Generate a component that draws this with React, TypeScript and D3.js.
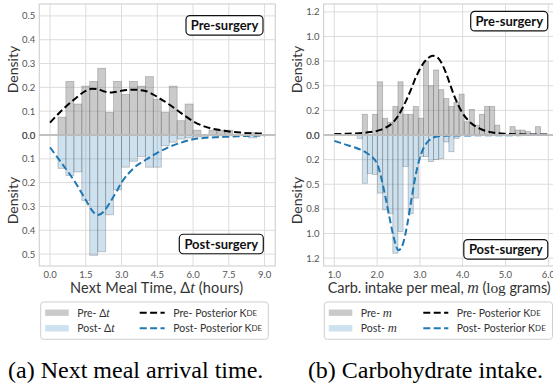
import React from "react";
import * as d3 from "d3";

// ---------- Panel (a): next meal arrival time, Δt in hours ----------
const timeBinStart = 1 / 3;
const timeBinWidth = 1 / 3;
const timePreDensity = [
  0.075, 0.225, 0.13, 0.205, 0.225, 0.28, 0.095, 0.225, 0.17, 0.225, 0.205, 0.245, 0.15,
  0.095, 0.205, 0.06, 0.13, 0.02, 0, 0.02, 0.02, 0.02, 0, 0, 0.01, 0,
];
const timePostDensity = [
  0.14, 0.17, 0.155, 0.275, 0.505, 0.49, 0.335, 0.23, 0.135, 0.11, 0.09, 0.135, 0.135,
  0.045, 0.03, 0.017, 0.012, 0.008, 0.005, 0, 0.003, 0, 0, 0, 0.012, 0,
];
const timeKdeGrid = [0, 0.5, 1, 1.5, 1.75, 2, 2.25, 2.5, 2.75, 3, 3.5, 4, 4.5, 5, 5.5, 6, 6.5, 7, 7.5, 8, 8.5, 9];
const timeKdePre = [
  0.052, 0.104, 0.148, 0.185, 0.194, 0.192, 0.184, 0.178, 0.181, 0.186, 0.19, 0.185, 0.16,
  0.128, 0.092, 0.058, 0.035, 0.023, 0.015, 0.01, 0.007, 0.006,
];
const timeKdePost = [
  0.052, 0.12, 0.19, 0.273, 0.315, 0.336, 0.322, 0.286, 0.244, 0.2, 0.14, 0.105, 0.075,
  0.05, 0.032, 0.018, 0.012, 0.009, 0.007, 0.005, 0.003, 0.002,
];
const timeXTicks = [0, 1.5, 3, 4.5, 6, 7.5, 9];
const timeYTicks = [0, 0.1, 0.2, 0.3, 0.4, 0.5];
const timeYTickLabels = ["0.0", "0.1", "0.2", "0.3", "0.4", "0.5"];

// ---------- Panel (b): carbohydrate intake per meal, m in log grams ----------
const carbBinStart = 1.535;
const carbBinWidth = 0.119;
const carbPreDensity = [
  0, 0.21, 0, 0.21, 0.54, 0.17, 0.13, 0.29, 0.54, 0.21, 0.21, 0.29, 0.17, 0.75, 0.5, 0.66,
  0.46, 0.37, 0.29, 0.33, 0.415, 0.135, 0.26, 0.1, 0.21, 0.29, 0.29, 0.1, 0, 0, 0.085, 0.05,
  0.05, 0.034, 0, 0.085,
];
const carbPostDensity = [
  0.034, 0.49, 0.39, 0.4, 0.59, 0.76, 0.8, 1.2, 0.98, 0.32, 0.8, 0.64, 0.22, 0.22, 0.27, 0.25,
  0.24, 0.07, 0.17, 0.034, 0, 0, 0, 0, 0, 0, 0, 0, 0, 0, 0, 0, 0, 0, 0, 0,
];
const carbKdeGrid = [
  1, 1.25, 1.5, 1.75, 2, 2.1, 2.2, 2.3, 2.4, 2.5, 2.6, 2.7, 2.8, 2.9, 3, 3.1, 3.2, 3.3, 3.4,
  3.5, 3.6, 3.7, 3.8, 3.9, 4, 4.2, 4.4, 4.7, 5, 5.5, 6,
];
const carbKdePre = [
  0.01, 0.012, 0.016, 0.025, 0.042, 0.055, 0.075, 0.1, 0.14, 0.2, 0.28, 0.37, 0.47, 0.58,
  0.67, 0.74, 0.785, 0.805, 0.79, 0.735, 0.64, 0.52, 0.4, 0.3, 0.22, 0.12, 0.065, 0.025,
  0.012, 0.006, 0.004,
];
const carbKdePost = [
  0.06, 0.095, 0.13, 0.18, 0.29, 0.44, 0.64, 0.86, 1.06, 1.17, 1.11, 0.92, 0.66, 0.41, 0.23,
  0.12, 0.06, 0.03, 0.016, 0.01, 0.007, 0.006, 0.005, 0.005, 0.004, 0.004, 0.003, 0.002,
  0.002, 0.001, 0.001,
];
const carbXTicks = [1, 2, 3, 4, 5, 6];
const carbYTicks = [0, 0.25, 0.5, 0.75, 1, 1.25];
const carbYTickLabels = ["0.0", "0.2", "0.5", "0.8", "1.0", "1.2"];

const SANS = "Lato, 'Open Sans', sans-serif";
const SERIF = "'Liberation Serif', 'DejaVu Serif', serif";
const TOP = 4;
const MID = 135;
const BOT = 266;
const GRID = "#dcdcdc";
const SPINE = "#cfcfcf";
const PRE_FILL = "rgba(128,128,128,0.42)";
const POST_FILL = "rgba(31,119,180,0.22)";
const BAR_EDGE = "rgba(110,110,110,0.45)";
const BLUE = "#1f77b4";

type PanelProps = {
  id: string;
  left: number;
  right: number;
  xDomain: [number, number];
  yMax: number;
  xTicks: number[];
  yTicks: number[];
  yTickLabels: string[];
  binStart: number;
  binWidth: number;
  pre: number[];
  post: number[];
  grid: number[];
  kdePre: number[];
  kdePost: number[];
  densityX: number;
  preBox: [number, number];
  postBox: [number, number];
};

function Tag({ cx, cy, label }: { cx: number; cy: number; label: string }) {
  const w = label.length > 11 ? 84 : 77;
  const h = 19.5;
  return (
    <g>
      <rect x={cx - w / 2} y={cy - h / 2} width={w} height={h} rx={4} fill="#fff" stroke="#111" strokeWidth={1.2} />
      <text x={cx} y={cy} textAnchor="middle" dominantBaseline="central" fontFamily={SANS} fontWeight={700} fontSize={13} fill="#111">
        {label}
      </text>
    </g>
  );
}

function Panel(p: PanelProps) {
  const x = d3.scaleLinear().domain(p.xDomain).range([p.left, p.right]);
  const yTop = d3.scaleLinear().domain([0, p.yMax]).range([MID, TOP]);
  const yBot = d3.scaleLinear().domain([0, p.yMax]).range([MID, BOT]);
  const lineTop = d3
    .line<number>()
    .x((_, i) => x(p.grid[i]))
    .y((d) => yTop(d))
    .curve(d3.curveMonotoneX);
  const lineBot = d3
    .line<number>()
    .x((_, i) => x(p.grid[i]))
    .y((d) => yBot(d))
    .curve(d3.curveMonotoneX);
  const clip = `clip-${p.id}`;
  const w = p.right - p.left;
  const binX = (i: number) => x(p.binStart + i * p.binWidth);
  return (
    <g>
      <defs>
        <clipPath id={clip}>
          <rect x={p.left} y={TOP} width={w} height={BOT - TOP} />
        </clipPath>
      </defs>
      {/* grid */}
      {p.xTicks.map((t) => (
        <line key={`vx${t}`} x1={x(t)} x2={x(t)} y1={TOP} y2={BOT} stroke={GRID} strokeWidth={1} />
      ))}
      {p.yTicks.slice(1).map((t) => (
        <g key={`hy${t}`}>
          <line x1={p.left} x2={p.right} y1={yTop(t)} y2={yTop(t)} stroke={GRID} strokeWidth={1} />
          <line x1={p.left} x2={p.right} y1={yBot(t)} y2={yBot(t)} stroke={GRID} strokeWidth={1} />
        </g>
      ))}
      <g clipPath={`url(#${clip})`}>
        {p.pre.map((v, i) =>
          v > 0 ? (
            <rect
              key={`pre${i}`}
              x={binX(i)}
              width={binX(i + 1) - binX(i)}
              y={yTop(v)}
              height={MID - yTop(v)}
              fill={PRE_FILL}
              stroke={BAR_EDGE}
              strokeWidth={0.8}
            />
          ) : null
        )}
        {p.post.map((v, i) =>
          v > 0 ? (
            <rect
              key={`post${i}`}
              x={binX(i)}
              width={binX(i + 1) - binX(i)}
              y={MID}
              height={yBot(v) - MID}
              fill={POST_FILL}
              stroke={BAR_EDGE}
              strokeWidth={0.8}
            />
          ) : null
        )}
        <path d={lineTop(p.kdePre) || ""} fill="none" stroke="#000" strokeWidth={2} strokeDasharray="7,3.4" />
        <path d={lineBot(p.kdePost) || ""} fill="none" stroke={BLUE} strokeWidth={2} strokeDasharray="7,3.4" />
      </g>
      {/* frames of the two stacked axes */}
      <rect x={p.left} y={TOP} width={w} height={MID - TOP} fill="none" stroke={SPINE} strokeWidth={1.1} />
      <rect x={p.left} y={MID} width={w} height={BOT - MID} fill="none" stroke={SPINE} strokeWidth={1.1} />
      <line x1={p.left} x2={p.right} y1={MID} y2={MID} stroke="#b8b8b8" strokeWidth={1.3} />
      {/* y tick labels */}
      {p.yTicks.map((t, i) => (
        <g key={`yl${t}`} fontFamily={SANS} fontSize={9.5} fill="#555" textAnchor="end">
          <text x={p.left - 4} y={yTop(t)} dominantBaseline="central">
            {p.yTickLabels[i]}
          </text>
          <text x={p.left - 4} y={yBot(t)} dominantBaseline="central">
            {p.yTickLabels[i]}
          </text>
        </g>
      ))}
      {/* x tick labels */}
      {p.xTicks.map((t) => (
        <text key={`xl${t}`} x={x(t)} y={277.5} textAnchor="middle" fontFamily={SANS} fontSize={9.5} fill="#555">
          {t.toFixed(1)}
        </text>
      ))}
      {[(TOP + MID) / 2, (MID + BOT) / 2].map((cy) => (
        <text
          key={`dl${cy}`}
          transform={`translate(${p.densityX},${cy}) rotate(-90)`}
          textAnchor="middle"
          dominantBaseline="central"
          fontFamily={SANS}
          fontSize={14}
          fill="#333"
        >
          Density
        </text>
      ))}
      <Tag cx={p.preBox[0]} cy={p.preBox[1]} label="Pre-surgery" />
      <Tag cx={p.postBox[0]} cy={p.postBox[1]} label="Post-surgery" />
    </g>
  );
}

function Kde() {
  return (
    <>
      K<tspan fontSize={8}>DE</tspan>
    </>
  );
}

function Legend({ x0, width, sym }: { x0: number; width: number; sym: React.ReactNode }) {
  const y0 = 302;
  const rows = [312.7, 328.3];
  return (
    <g fontFamily={SANS} fontSize={10.5} fill="#333">
      <rect x={x0} y={y0} width={width} height={37.3} rx={3} fill="#fff" stroke="#cfcfcf" strokeWidth={1} />
      <rect x={x0 + 4.5} y={rows[0] - 3.2} width={23.5} height={6.4} fill={PRE_FILL} />
      <rect x={x0 + 4.5} y={rows[1] - 3.2} width={23.5} height={6.4} fill={POST_FILL} />
      <text x={x0 + 36.5} y={rows[0]} dominantBaseline="central">
        Pre- {sym}
      </text>
      <text x={x0 + 36.5} y={rows[1]} dominantBaseline="central">
        Post- {sym}
      </text>
      <line x1={x0 + 99} x2={x0 + 124} y1={rows[0]} y2={rows[0]} stroke="#000" strokeWidth={2} strokeDasharray="7,3.4" />
      <line x1={x0 + 99} x2={x0 + 124} y1={rows[1]} y2={rows[1]} stroke={BLUE} strokeWidth={2} strokeDasharray="7,3.4" />
      <text x={x0 + 132.5} y={rows[0]} dominantBaseline="central">
        Pre- Posterior <Kde />
      </text>
      <text x={x0 + 132.5} y={rows[1]} dominantBaseline="central">
        Post- Posterior <Kde />
      </text>
    </g>
  );
}

export default function App() {
  const deltaT = (
    <>
      Δ<tspan fontFamily={SERIF} fontStyle="italic" fontSize="1.15em">t</tspan>
    </>
  );
  const mSym = (
    <tspan fontFamily={SERIF} fontStyle="italic" fontSize="1.2em">
      m
    </tspan>
  );
  return (
    <svg
      width={553}
      height={383}
      viewBox="0 0 553 383"
      style={{ position: "absolute", left: 0, top: 0, background: "#fff" }}
    >
      <rect width={553} height={383} fill="#fff" />
      <Panel
        id="time"
        left={39.3}
        right={275.3}
        xDomain={[-0.45, 9.45]}
        yMax={0.55}
        xTicks={timeXTicks}
        yTicks={timeYTicks}
        yTickLabels={timeYTickLabels}
        binStart={timeBinStart}
        binWidth={timeBinWidth}
        pre={timePreDensity}
        post={timePostDensity}
        grid={timeKdeGrid}
        kdePre={timeKdePre}
        kdePost={timeKdePost}
        densityX={12.5}
        preBox={[224.5, 25.3]}
        postBox={[221.3, 244]}
      />
      <Panel
        id="carb"
        left={323.6}
        right={559}
        xDomain={[0.75, 6.25]}
        yMax={1.33}
        xTicks={carbXTicks}
        yTicks={carbYTicks}
        yTickLabels={carbYTickLabels}
        binStart={carbBinStart}
        binWidth={carbBinWidth}
        pre={carbPreDensity}
        post={carbPostDensity}
        grid={carbKdeGrid}
        kdePre={carbKdePre}
        kdePost={carbKdePost}
        densityX={296.7}
        preBox={[509.2, 21.2]}
        postBox={[505.8, 249.3]}
      />
      {/* axis titles */}
      <text
        x={70}
        y={293}
        textLength={173}
        lengthAdjust="spacing"
        fontFamily={SANS}
        fontSize={14.5}
        fill="#333"
      >
        Next Meal Time, {deltaT} (hours)
      </text>
      <text
        x={327.7}
        y={293}
        textLength={223}
        lengthAdjust="spacing"
        fontFamily={SANS}
        fontSize={14.5}
        fill="#333"
      >
        Carb. intake per meal, <tspan fontFamily={SERIF} fontStyle="italic" fontSize={16}>m</tspan> (
        <tspan fontFamily={SERIF} fontSize={15.5}>log</tspan> grams)
      </text>
      <Legend x0={40.7} width={227.6} sym={deltaT} />
      <Legend x0={324.3} width={228.2} sym={mSym} />
      {/* captions */}
      <text x={135.7} y={378} textAnchor="middle" fontFamily={SERIF} fontSize={24} fill="#000">
        (a) Next meal arrival time.
      </text>
      <text x={425.5} y={378} textAnchor="middle" fontFamily={SERIF} fontSize={24} fill="#000">
        (b) Carbohydrate intake.
      </text>
    </svg>
  );
}
